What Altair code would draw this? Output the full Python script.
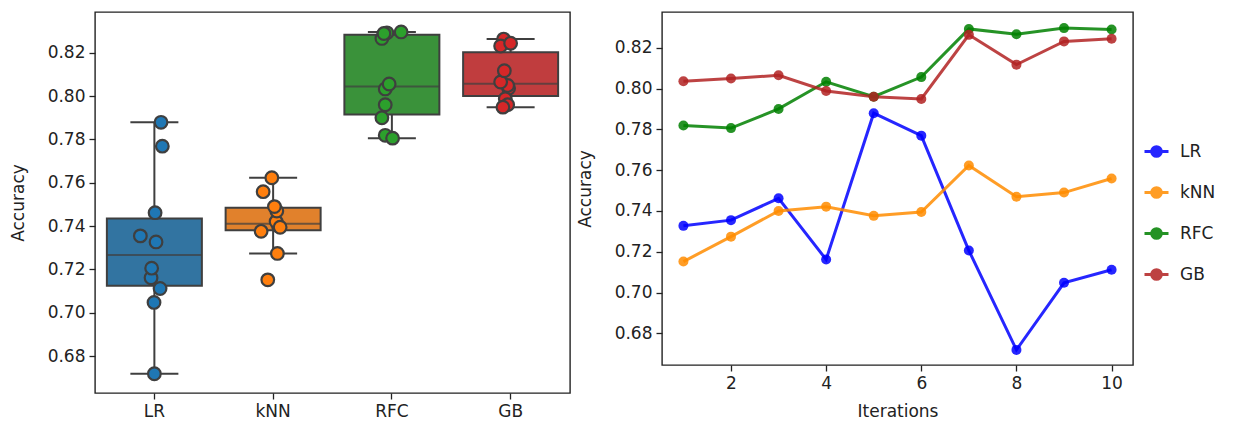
import altair as alt
import pandas as pd

models = ["LR", "kNN", "RFC", "GB"]
iterations = [1, 2, 3, 4, 5, 6, 7, 8, 9, 10]

acc_lr = [0.7327, 0.7355, 0.7462, 0.7162, 0.7879, 0.7769, 0.7206, 0.6719, 0.7048, 0.7112]
acc_knn = [0.7152, 0.7274, 0.7400, 0.7421, 0.7376, 0.7395, 0.7623, 0.7470, 0.7490, 0.7559]
acc_rfc = [0.7819, 0.7806, 0.7900, 0.8033, 0.7960, 0.8056, 0.8292, 0.8266, 0.8296, 0.8289]
acc_gb = [0.8036, 0.8049, 0.8065, 0.7988, 0.7960, 0.7949, 0.8263, 0.8117, 0.8231, 0.8244]

# horizontal strip jitter (fraction of category width)
jit_lr = [0.014, -0.118, 0.006, -0.028, 0.056, 0.067, -0.023, 0.0, -0.003, 0.048]
jit_knn = [-0.045, 0.036, 0.045, 0.025, -0.101, 0.059, -0.011, 0.031, 0.011, -0.084]
jit_rfc = [-0.056, 0.006, -0.084, -0.056, -0.056, -0.023, -0.042, -0.084, 0.078, -0.067]
jit_gb = [-0.017, -0.025, -0.084, -0.045, -0.025, -0.065, -0.059, -0.053, -0.084, 0.0]

y_ticks = [0.68, 0.70, 0.72, 0.74, 0.76, 0.78, 0.80, 0.82]
x_ticks = [2, 4, 6, 8, 10]

box_colors = ["#3274a1", "#e1812c", "#3a923a", "#c03d3e"]
point_colors = ["#1f77b4", "#ff7f0e", "#2ca02c", "#d62728"]
line_colors = ["#0000ff", "#ff8c00", "#008000", "#b22222"]
GRAY = "#3f3f3f"
TXT = "#222222"
FONT = "DejaVu Sans"
FS = 17

rows = []
for m, accs, jits in zip(models, [acc_lr, acc_knn, acc_rfc, acc_gb], [jit_lr, jit_knn, jit_rfc, jit_gb]):
    for it, a, j in zip(iterations, accs, jits):
        rows.append({"model": m, "iter": it, "acc": a, "jit": j})
df = pd.DataFrame(rows)

x_cat = alt.Scale(domain=models, paddingInner=0, paddingOuter=0)
y_left = alt.Scale(domain=[0.663, 0.8388], nice=False, zero=False)
y_right = alt.Scale(domain=[0.6645, 0.8375], nice=False, zero=False)
y_axis = alt.Axis(values=y_ticks, format=".2f", title="Accuracy", grid=False, titlePadding=20)

box = alt.Chart(df).mark_boxplot(
    extent=1.5, size=95, outliers=False,
    box={"stroke": GRAY, "strokeWidth": 2},
    median={"color": GRAY, "strokeWidth": 2, "thickness": 2},
    rule={"color": GRAY, "strokeWidth": 2},
    ticks={"color": GRAY, "size": 48, "thickness": 2},
).encode(
    x=alt.X("model:N", scale=x_cat, sort=models, title=None,
            axis=alt.Axis(labelAngle=0, grid=False)),
    y=alt.Y("acc:Q", scale=y_left, axis=y_axis),
    color=alt.Color("model:N", scale=alt.Scale(domain=models, range=box_colors), legend=None),
)

strip = alt.Chart(df).mark_circle(size=160, stroke=GRAY, strokeWidth=2.2, opacity=1).encode(
    x=alt.X("model:N", scale=x_cat, sort=models),
    xOffset=alt.XOffset("jit:Q", scale=alt.Scale(domain=[-0.5, 0.5])),
    y=alt.Y("acc:Q", scale=y_left),
    fill=alt.Fill("model:N", scale=alt.Scale(domain=models, range=point_colors), legend=None),
)

left = alt.layer(box, strip).properties(width=475, height=381)

legend_path = "M-1,0H1M0.4,0A0.4,0.4 0 1,1 -0.4,0A0.4,0.4 0 1,1 0.4,0Z"
leg = alt.Legend(
    title=None, orient="none", legendX=481, legendY=126,
    symbolType=legend_path, symbolSize=576, symbolStrokeWidth=3,
    symbolOpacity=0.85, labelFontSize=FS, labelFont=FONT, labelColor=TXT,
    labelOffset=10, rowPadding=16,
)

color_enc = alt.Color("model:N", scale=alt.Scale(domain=models, range=line_colors), legend=leg, sort=models)
x_iter = alt.X("iter:Q", scale=alt.Scale(domain=[0.55, 10.45], nice=False, zero=False),
               axis=alt.Axis(values=x_ticks, title="Iterations", grid=False, format="d", titlePadding=12))

lines = alt.Chart(df).mark_line(strokeWidth=3, opacity=0.85).encode(
    x=x_iter,
    y=alt.Y("acc:Q", scale=y_right, axis=y_axis),
    color=color_enc,
)
dots = alt.Chart(df).mark_circle(size=100, opacity=0.85).encode(
    x=x_iter,
    y=alt.Y("acc:Q", scale=y_right),
    color=color_enc,
)
right = alt.layer(lines, dots).properties(width=471, height=353)

chart = alt.hconcat(left, right, spacing=4).resolve_scale(
    color="independent", fill="independent", y="independent"
).properties(
    padding={"left": 8, "top": 11, "right": 0, "bottom": 0},
    background="white",
).configure_view(
    stroke="#222222", strokeWidth=1.4
).configure_axis(
    labelFont=FONT, titleFont=FONT, labelFontSize=FS, titleFontSize=FS,
    labelColor=TXT, titleColor=TXT, titleFontWeight="normal",
    domain=False, tickColor="#222222", tickSize=6, tickWidth=1.3,
    labelPadding=4,
)

chart.save("out.html", embed_options={"renderer": "svg", "actions": False})
